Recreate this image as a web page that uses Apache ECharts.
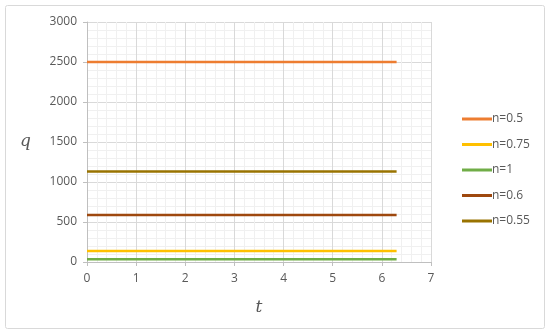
<!doctype html>
<html>
<head>
<meta charset="utf-8">
<title>q vs t</title>
<script src="https://cdn.jsdelivr.net/npm/echarts@6/dist/echarts.min.js"></script>
<style>
  html, body { margin: 0; padding: 0; background: #fff; }
  #main { width: 550px; height: 334px; }
</style>
</head>
<body>
<div id="main"></div>
<script>
var tRange = [0, 6.3];
var seriesNames = ['n=0.5', 'n=0.75', 'n=1', 'n=0.6', 'n=0.55'];
var seriesValues = [2500, 137, 35, 587, 1131];
var seriesColors = ['#ED7D31', '#FFC000', '#70AD47', '#9E480E', '#997300'];

var chart = echarts.init(document.getElementById('main'));
var font = '"Open Sans", sans-serif';

var series = seriesNames.map(function (name, i) {
    return {
        name: name,
        type: 'line',
        symbol: 'none',
        lineStyle: { width: 2.5, color: seriesColors[i] },
        itemStyle: { color: seriesColors[i] },
        data: tRange.map(function (t) { return [t, seriesValues[i]]; })
    };
});

chart.setOption({
    animation: false,
    graphic: [{
        type: 'rect',
        shape: { x: 5.5, y: 5.5, width: 539, height: 323, r: 2 },
        style: { fill: 'none', stroke: '#d9d9d9', lineWidth: 1 },
        silent: true
    }],
    grid: { left: 87, right: 119, top: 22, bottom: 72 },
    legend: {
        orient: 'vertical',
        left: 457,
        top: 108,
        itemWidth: 30,
        itemHeight: 3,
        itemGap: 13.5,
        icon: 'rect',
        textStyle: { fontFamily: font, fontSize: 12, color: '#595959', padding: [0, 0, 0, -5] },
        data: seriesNames
    },
    xAxis: {
        type: 'value',
        min: 0, max: 7, interval: 1,
        name: 't',
        nameLocation: 'middle',
        nameGap: 37,
        nameTextStyle: { fontFamily: 'DejaVu Serif', fontStyle: 'italic', fontSize: 17, color: '#595959' },
        axisLine: { show: true, lineStyle: { color: '#bfbfbf' } },
        axisTick: { show: true, length: 4, lineStyle: { color: '#bfbfbf' } },
        axisLabel: { fontFamily: font, fontSize: 12, color: '#595959', margin: 11 },
        splitLine: { show: true, lineStyle: { color: '#d9d9d9' } },
        minorTick: { show: false, splitNumber: 5 },
        minorSplitLine: { show: true, lineStyle: { color: '#f0f0f0' } }
    },
    yAxis: {
        type: 'value',
        min: 0, max: 3000, interval: 500,
        name: 'q',
        nameLocation: 'middle',
        nameRotate: 0,
        nameGap: 56,
        nameTextStyle: { fontFamily: 'DejaVu Serif', fontStyle: 'italic', fontSize: 17, color: '#595959' },
        axisLine: { show: true, lineStyle: { color: '#bfbfbf' } },
        axisTick: { show: true, length: 4, lineStyle: { color: '#bfbfbf' } },
        axisLabel: { fontFamily: font, fontSize: 12, color: '#595959', margin: 10, formatter: function (v) { return String(v); } },
        splitLine: { show: true, lineStyle: { color: '#d9d9d9' } },
        minorTick: { show: false, splitNumber: 5 },
        minorSplitLine: { show: true, lineStyle: { color: '#f0f0f0' } }
    },
    series: series
});
</script>
</body>
</html>
